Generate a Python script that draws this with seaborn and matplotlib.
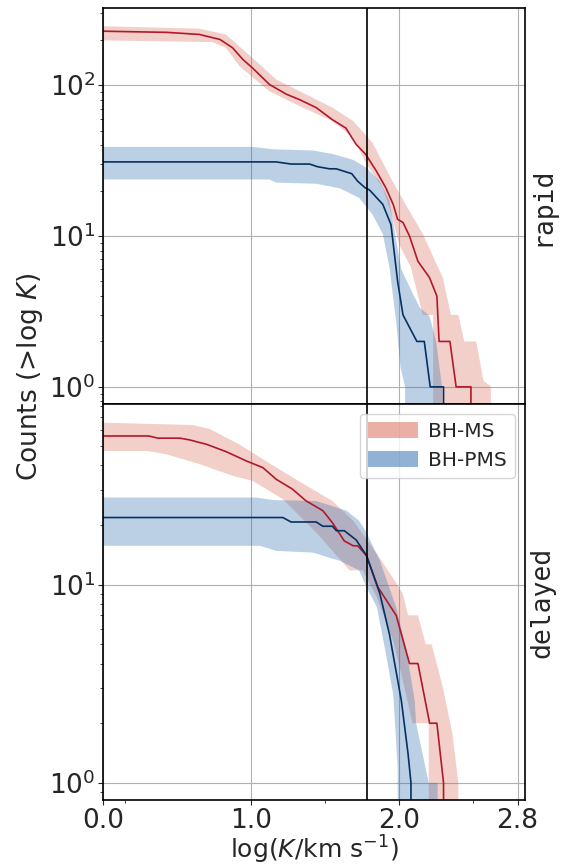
import numpy as np
import seaborn as sns
import matplotlib.pyplot as plt
from matplotlib.lines import Line2D

sns.set_style("ticks")
plt.rcParams['font.family'] = ['DejaVu Sans']
plt.rcParams['mathtext.fontset'] = 'dejavusans'

# ---- data (x = log K, y = cumulative counts) ----
# rapid panel
rapid_ms_x = [0.0, 0.43, 0.65, 0.79, 0.875, 0.945, 1.01, 1.125, 1.24, 1.33, 1.44, 1.55, 1.64, 1.71,
              1.774, 1.846, 1.91, 1.96, 1.99, 2.026, 2.07, 2.127, 2.205, 2.255, 2.27, 2.343, 2.385,
              2.485, 2.485]
rapid_ms_y = [228, 224, 217, 201, 177, 148, 130, 101, 87, 80, 71, 59, 52, 40.5,
              34.8, 27, 20.9, 16.2, 12.9, 12.3, 10, 6.8, 5.3, 4.0, 2.0, 2.0, 1,
              1, 0]
rapid_pms_x = [0.0, 1.17, 1.27, 1.395, 1.45, 1.53, 1.575, 1.68, 1.72, 1.77, 1.80, 1.89, 1.945,
               1.99, 2.026, 2.12, 2.17, 2.21, 2.30, 2.30]
rapid_pms_y = [31, 31, 30, 30, 28.8, 27.9, 27.9, 25.9, 23.1, 20.9, 20.2, 16.2, 11.9,
               5.0, 3.0, 2, 2, 1, 1, 0]

rapid_ms_hi_x = [0.0, 0.65, 0.83, 0.92, 1.035, 1.17, 1.33, 1.55, 1.69, 1.82, 1.955, 2.025, 2.16,
                 2.295, 2.35, 2.40, 2.44, 2.52, 2.57, 2.62, 2.62]
rapid_ms_hi_y = [246, 237, 217, 181, 144, 109, 91, 71, 57.8, 41.5, 23.1, 17.5, 10.3,
                 5.3, 3.0, 3.0, 2.0, 2.0, 1.1, 1.0, 0]
rapid_ms_lo_x = [0.0, 0.74, 0.83, 0.92, 1.125, 1.33, 1.55, 1.69, 1.78, 1.89, 1.955, 2.0, 2.08,
                 2.16, 2.23, 2.23]
rapid_ms_lo_y = [198, 193, 177, 134, 91, 72.5, 57.8, 44.8, 29.9, 20.9, 13.2, 8.8, 6.2,
                 3.0, 3.0, 0]
rapid_pms_hi_x = [0.0, 1.01, 1.147, 1.42, 1.55, 1.69, 1.78, 1.87, 1.935, 1.975, 2.015, 2.09,
                  2.14, 2.205, 2.25, 2.29, 2.30]
rapid_pms_hi_y = [39, 39, 37.6, 36.9, 35, 32, 28.3, 23.1, 17.1, 10, 6, 4.2,
                  3.35, 2.95, 2.0, 1.0, 0]
rapid_pms_lo_x = [0.0, 1.125, 1.17, 1.44, 1.6, 1.73, 1.82, 1.89, 1.935, 1.98, 2.01, 2.04, 2.04]
rapid_pms_lo_y = [23.7, 23.7, 22.6, 22.2, 20.7, 17.9, 13.9, 10.3, 6.2, 2.7, 1.34, 1.0, 0]

# delayed panel
delayed_ms_x = [0.0, 0.31, 0.37, 0.52, 0.585, 0.70, 0.83, 0.97, 1.08, 1.17, 1.28, 1.37, 1.485,
                1.55, 1.63, 1.69, 1.72, 1.78, 1.857, 1.98, 2.07, 2.127, 2.206, 2.255, 2.30, 2.30]
delayed_ms_y = [56.2, 56.2, 54.8, 54.8, 53.7, 51, 46.9, 42, 38.9, 34, 30.3, 26.5, 23.6,
                20.5, 16.6, 15.7, 15.7, 14.0, 9.7, 7.0, 4.0, 4.0, 2.0, 2.0, 1.0, 0]
delayed_pms_x = [0.0, 1.215, 1.27, 1.44, 1.485, 1.55, 1.576, 1.63, 1.71, 1.78, 1.87, 1.935,
                 2.015, 2.06, 2.08, 2.08]
delayed_pms_y = [21.8, 21.8, 20.7, 20.7, 19.7, 19.7, 18.7, 18.7, 16.8, 14.0, 9.0, 5.6,
                 2.6, 1.41, 1.0, 0]

delayed_ms_hi_x = [0.0, 0.61, 0.72, 0.92, 1.10, 1.33, 1.55, 1.69, 1.85, 1.955, 2.025, 2.06,
                   2.127, 2.18, 2.22, 2.295, 2.36, 2.40, 2.40]
delayed_ms_hi_y = [65.6, 63.8, 61, 51, 42, 33, 26.4, 21, 14.3, 10.9, 9.0, 7.0,
                   7.0, 5.0, 5.0, 3.04, 1.77, 1.0, 0]
delayed_ms_lo_x = [0.0, 0.30, 0.43, 0.65, 0.88, 1.01, 1.215, 1.45, 1.665, 1.755, 1.85, 1.96,
                   2.025, 2.09, 2.20, 2.21]
delayed_ms_lo_y = [47.2, 47.2, 45.4, 40.6, 35.3, 33.4, 27.0, 18, 11.8, 11.8, 8.6, 5.2,
                   3.3, 2.0, 2.0, 0]
delayed_pms_hi_x = [0.0, 1.035, 1.15, 1.44, 1.645, 1.73, 1.78, 1.87, 1.98, 2.05, 2.105, 2.115,
                    2.20, 2.26, 2.26]
delayed_pms_hi_y = [27.5, 27.5, 26.7, 26.4, 23.6, 21, 18.3, 13.2, 7.7, 4.65, 2.6, 2.0,
                    1.0, 1.0, 0]
delayed_pms_lo_x = [0.0, 1.06, 1.17, 1.42, 1.55, 1.6, 1.73, 1.78, 1.85, 1.91, 1.96, 1.99, 2.0]
delayed_pms_lo_y = [15.7, 15.7, 14.8, 14.5, 13.5, 13.2, 11.8, 9.7, 7.7, 4.5, 2.8, 1.2, 0]

k_cut = 1.78  # vertical reference line
panel_names = ['rapid', 'delayed']
labels = ['BH-MS', 'BH-PMS']

ms_line, pms_line = '#b2182b', '#053061'
ms_band, pms_band = '#d6604d', '#2166ac'

panels = [
    dict(ms=(rapid_ms_x, rapid_ms_y), pms=(rapid_pms_x, rapid_pms_y),
         ms_hi=(rapid_ms_hi_x, rapid_ms_hi_y), ms_lo=(rapid_ms_lo_x, rapid_ms_lo_y),
         pms_hi=(rapid_pms_hi_x, rapid_pms_hi_y), pms_lo=(rapid_pms_lo_x, rapid_pms_lo_y),
         ylim=(0.77, 325)),
    dict(ms=(delayed_ms_x, delayed_ms_y), pms=(delayed_pms_x, delayed_pms_y),
         ms_hi=(delayed_ms_hi_x, delayed_ms_hi_y), ms_lo=(delayed_ms_lo_x, delayed_ms_lo_y),
         pms_hi=(delayed_pms_hi_x, delayed_pms_hi_y), pms_lo=(delayed_pms_lo_x, delayed_pms_lo_y),
         ylim=(0.82, 81.5)),
]

fig, axes = plt.subplots(2, 1, figsize=(5.74, 8.67), dpi=100, sharex=True)
fig.subplots_adjust(left=0.1794, right=0.9146, top=0.9908, bottom=0.0773, hspace=0)


def band(ax, hi, lo, color):
    xs = np.concatenate([hi[0], lo[0][::-1]])
    ys = np.concatenate([hi[1], lo[1][::-1]])
    ax.fill(xs, ys, color=color, alpha=0.3, lw=0)


for ax, p, name in zip(axes, panels, panel_names):
    band(ax, p['ms_hi'], p['ms_lo'], ms_band)
    band(ax, p['pms_hi'], p['pms_lo'], pms_band)
    sns.lineplot(x=p['ms'][0], y=p['ms'][1], ax=ax, color=ms_line, lw=1.2,
                 sort=False, estimator=None)
    sns.lineplot(x=p['pms'][0], y=p['pms'][1], ax=ax, color=pms_line, lw=1.2,
                 sort=False, estimator=None)
    ax.axvline(k_cut, color='black', lw=1.2)
    ax.set_yscale('log')
    ax.set_ylim(*p['ylim'])
    ax.set_xlim(0, 2.85)
    ax.grid(True, which='major', color='#b0b0b0', lw=0.8)
    ax.tick_params(axis='both', which='major', labelsize=19, length=3.5, width=0.8, pad=2)
    ax.tick_params(axis='both', which='minor', length=2, width=0.6)
    for s in ax.spines.values():
        s.set_linewidth(1.2)
        s.set_color('black')
    ax.text(1.01, 0.5, name, transform=ax.transAxes, rotation=90, va='center',
            ha='left', fontsize=19, family='DejaVu Sans Mono')

axes[1].set_xticks([0.0, 1.0, 2.0, 2.8])
axes[1].set_xticks([0.15, 1.5, 2.5], minor=True)
axes[1].set_xticklabels(['0.0', '1.0', '2.0', '2.8'])
axes[1].set_xlabel(r'log($K$/km s$^{-1}$)', fontsize=18, labelpad=0)
fig.text(0.052, 1 - 377 / 867, r'Counts (>log $K$)', rotation=90, va='center',
         ha='center', fontsize=19)

handles = [Line2D([], [], color=ms_band, lw=11.5, alpha=0.5, solid_capstyle='butt'),
           Line2D([], [], color=pms_band, lw=11.5, alpha=0.5, solid_capstyle='butt')]
axes[1].legend(handles, labels, loc='upper right', fontsize=14.5, handlelength=2.5,
               handletextpad=0.5, frameon=True, fancybox=True, framealpha=0.8,
               edgecolor='#cccccc', borderaxespad=0.5)

fig.savefig('out.png', dpi=100)
